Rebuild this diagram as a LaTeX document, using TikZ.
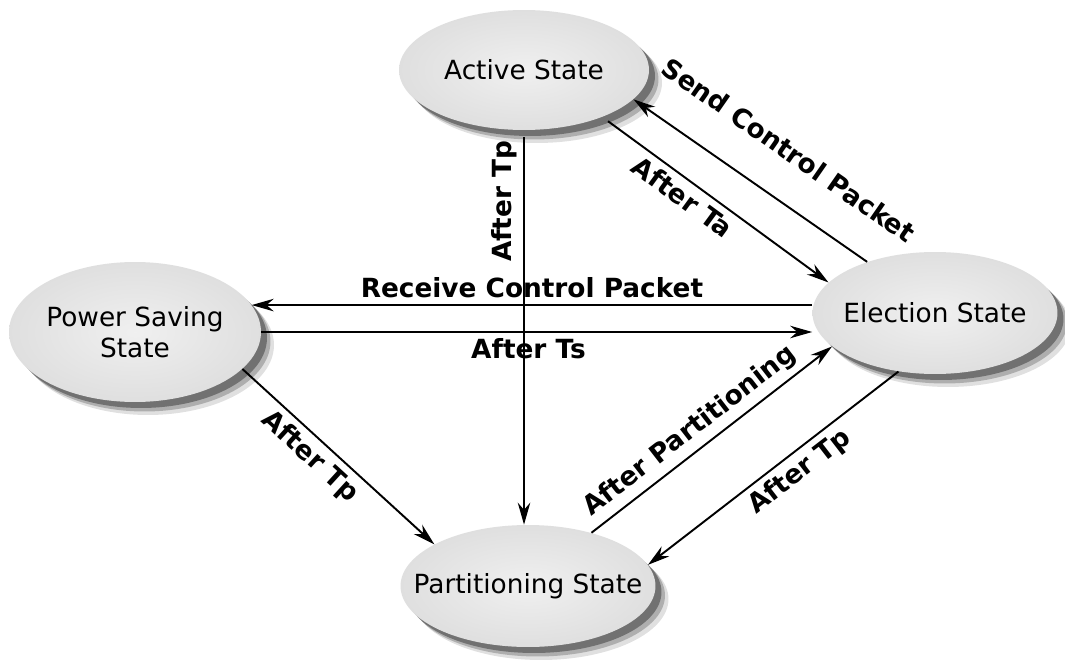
\documentclass[tikz,border=0pt]{standalone}
\usepackage{fontspec}
\setmainfont{DejaVu Sans}
\usetikzlibrary{arrows.meta,positioning,shapes.geometric,shadows}

\begin{document}
\begin{tikzpicture}[x=0.02cm, y=0.02cm,
  state/.style={ellipse, inner sep=0pt, minimum width=5cm, minimum height=2.4cm,
    inner color=gray!12, outer color=gray!25,
    drop shadow={shadow xshift=0.26cm, shadow yshift=-0.26cm, opacity=0.12, fill=black},
    drop shadow={shadow xshift=0.19cm, shadow yshift=-0.19cm, opacity=0.22, fill=black},
    drop shadow={shadow xshift=0.12cm, shadow yshift=-0.12cm, opacity=0.35, fill=black},
    label={[font=\fontsize{15}{18}\selectfont, align=center]center:{#1}}},
  trans/.style={-{Stealth[length=4.4mm, width=2.5mm]}, line width=1.1pt},
  lbl/.style={font=\fontsize{15}{18}\selectfont\bfseries}]
  \path[use as bounding box, fill=white] (0,0) rectangle (1065,660);
  % states
  \node[state={Active State}] (act) at (524,590) {};
  \node[state={Power Saving\\State}, minimum width=5.04cm, minimum height=2.8cm] (pws) at (135,328) {};
  \node[state={Election State}, minimum width=4.9cm, minimum height=2.44cm] (elec) at (935,347) {};
  \node[state={Partitioning State}, minimum width=5.1cm, minimum height=2.44cm] (part) at (528,74) {};
  % transitions
  \draw[trans, shorten <=4pt] (act.-31) -- (elec.164) node[lbl, pos=0.4, sloped, below] {After Ta};
  \draw[trans] (elec.143) -- (act.-15) node[lbl, pos=0.45, sloped, above=0.6cm] {Send Control Packet};
  \draw[trans, shorten <=4pt] (act.south) -- (act.south |- part.north) node[lbl, pos=0.18, rotate=90, above] {After Tp};
  \draw[trans] (pws.13 -| elec.west) -- (pws.13) node[lbl, midway, above] {Receive Control Packet};
  \draw[trans] (pws.east) -- (pws.east -| elec.west) node[lbl, pos=0.485, below] {After Ts};
  \draw[trans] (pws.-19.5) -- (part.156) node[lbl, pos=0.42, sloped, below] {After Tp};
  \draw[trans] (part.40) -- (elec.198) node[lbl, pos=0.46, sloped, above] {After Partitioning};
  \draw[trans] (elec.238) -- (part.10) node[lbl, pos=0.44, sloped, below] {After Tp};
\end{tikzpicture}
\end{document}
